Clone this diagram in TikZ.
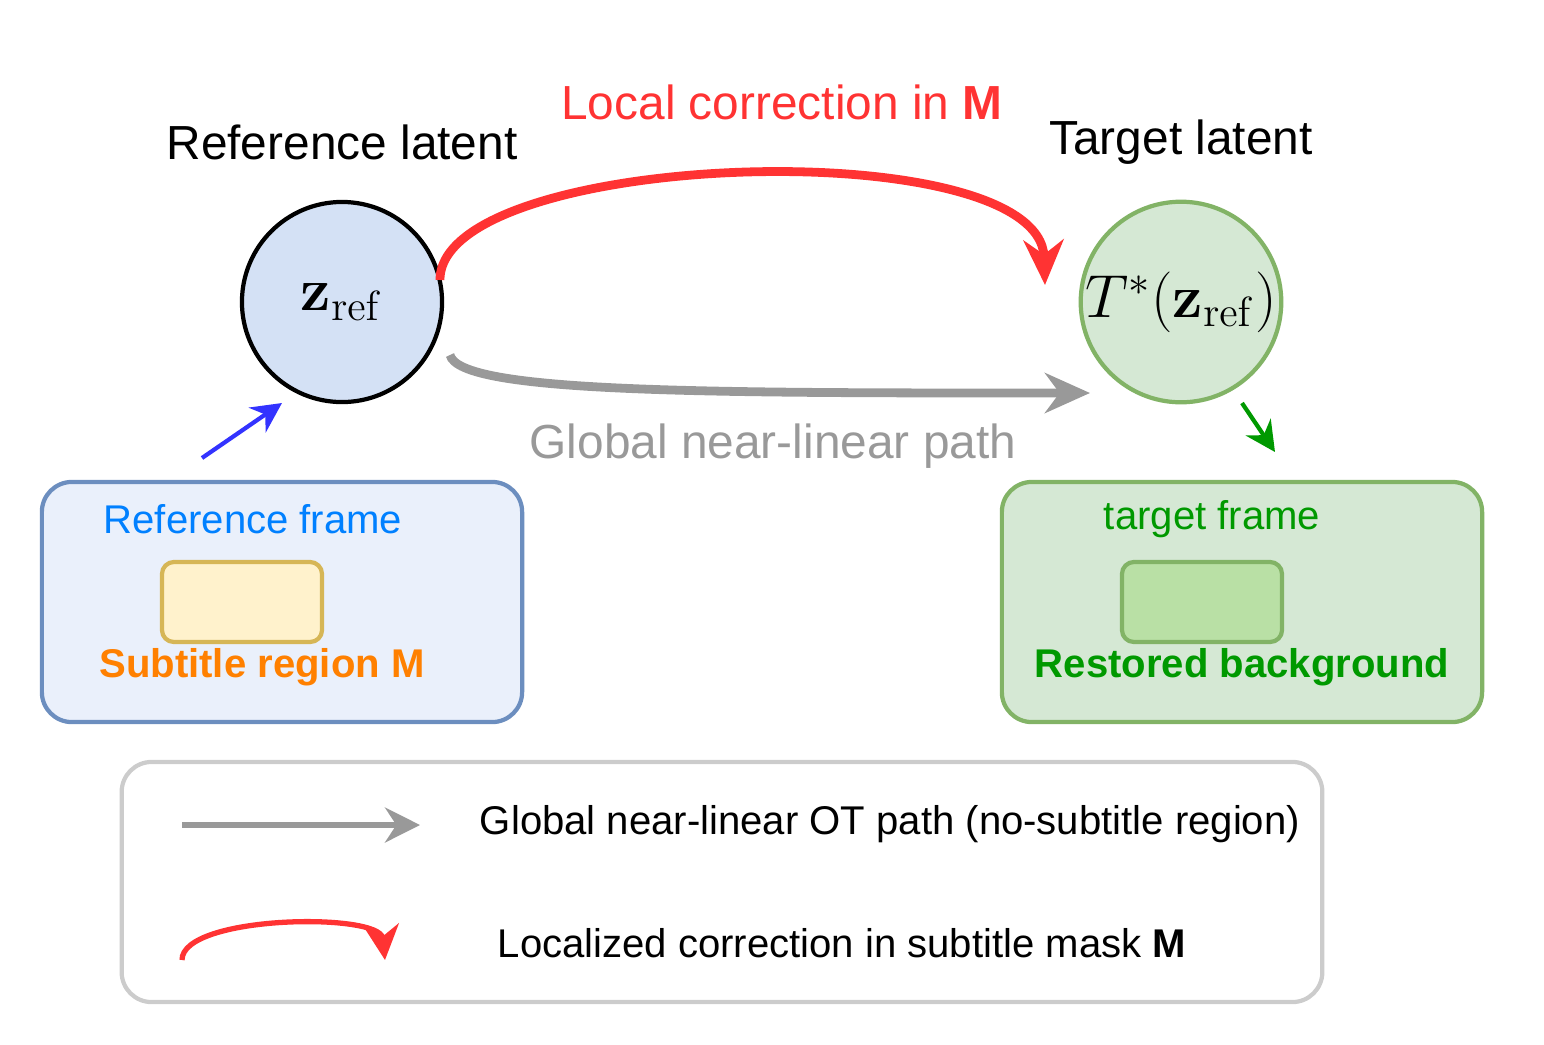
\documentclass[tikz,border=0pt]{standalone}
\usepackage[no-math]{fontspec}
\setmainfont{Liberation Sans}
\usetikzlibrary{arrows.meta, calc, positioning}
\definecolor{refblue}{HTML}{D4E1F5}
\definecolor{refstroke}{HTML}{6C8EBF}
\definecolor{refpale}{HTML}{EAF0FB}
\definecolor{tgtgreen}{HTML}{D5E8D4}
\definecolor{tgtstroke}{HTML}{82B366}
\definecolor{tgtdark}{HTML}{B9E0A5}
\definecolor{subfill}{HTML}{FFF2CC}
\definecolor{substroke}{HTML}{D6B656}
\definecolor{corred}{HTML}{FF3333}
\definecolor{pathgray}{HTML}{999999}
\tikzset{
	latent/.style={circle, draw, line width=1.2pt, minimum size=2cm, inner sep=0pt},
	frame/.style={rounded corners=0.3cm, line width=1.2pt, minimum width=4.8cm, minimum height=2.4cm},
	patch/.style={rounded corners=0.12cm, line width=1.2pt, minimum width=1.6cm, minimum height=0.8cm},
	big/.style={font=\fontsize{13.6}{16}\selectfont},
	mid/.style={font=\fontsize{11.4}{13}\selectfont},
}
\begin{document}
\begin{tikzpicture}[>=Stealth, x=0.01cm, y=-0.01cm]
	\useasboundingbox (0,0) rectangle (1544,1044);
	% Latents
	\node[latent, fill=refblue] (zref) at (342,302) {\fontsize{17}{19}\selectfont$\mathbf{z}_{\mathrm{ref}}$};
	\node[latent, fill=tgtgreen, draw=tgtstroke] (ztgt) at (1181,302) {\fontsize{16.5}{18}\selectfont$T^*(\mathbf{z}_{\mathrm{ref}})$};
	\node[big] at (342,142) {Reference latent};
	\node[big] at (1181,142) {Target latent};
	\node[big, text=corred] at (782,102) {Local correction in \textbf{M}};
	\node[big, text=pathgray] (glabel) at (773,446) {Global near-linear path};
	% Connectors
	\coordinate (rs) at (440,280);
	\coordinate (re) at (1045,285);
	\draw[corred, line width=2.5pt, -{Stealth[length=0.45cm, width=0.4cm]}] (rs) .. controls (440,150) and (1040,130) .. (re);
	\coordinate (gs) at (450,355);
	\coordinate (ge) at (1090,393);
	\draw[pathgray, line width=2.5pt, -{Stealth[length=0.45cm, width=0.4cm]}] (gs) .. controls (460,393) and (700,393) .. (ge);
	\coordinate (bs) at (202,458);
	\coordinate (be) at (282,403);
	\draw[blue!80!white, line width=1.2pt, -{Stealth[length=0.3cm, width=0.3cm]}] (bs) -- (be);
	\coordinate (ts) at (1242,403);
	\coordinate (te) at (1275,452);
	\draw[green!60!black, line width=1.2pt, -{Stealth[length=0.3cm, width=0.3cm]}] (ts) -- (te);
	% Frames
	\node[frame, fill=refpale, draw=refstroke] (rframe) at (282,602) {};
	\node[mid, text=blue!50!cyan] at (253,519) {Reference frame};
	\node[patch, fill=subfill, draw=substroke] (rpatch) at (242,602) {};
	\node[text=orange, font=\fontsize{11.4}{13}\selectfont\bfseries] at (262,667) {Subtitle region M};
	\node[frame, fill=tgtgreen, draw=tgtstroke] (tframe) at (1242,602) {};
	\node[mid, text=green!60!black] at (1212,519) {target frame};
	\node[patch, fill=tgtdark, draw=tgtstroke] (tpatch) at (1202,602) {};
	\node[text=green!60!black, font=\fontsize{11.4}{13}\selectfont\bfseries] at (1242,667) {Restored background};
	% Legend
	\node[rounded corners=0.3cm, draw=black!20, line width=1.2pt, minimum width=12cm, minimum height=2.4cm] (legend) at (722,882) {};
	\coordinate (l1s) at (182,825);
	\coordinate (l1e) at (420,825);
	\draw[pathgray, line width=1.5pt, -{Stealth[length=0.35cm, width=0.35cm]}] (l1s) -- (l1e);
	\node[mid] at (890,824) {Global near-linear OT path (no-subtitle region)};
	\coordinate (l2s) at (182,960);
	\coordinate (l2e) at (385,960);
	\draw[corred, line width=1.5pt, -{Stealth[length=0.35cm, width=0.35cm]}] (l2s) .. controls (182,915) and (380,912) .. (l2e);
	\node[mid] at (842,943) {Localized correction in subtitle mask \textbf{M}};
\end{tikzpicture}
\end{document}
